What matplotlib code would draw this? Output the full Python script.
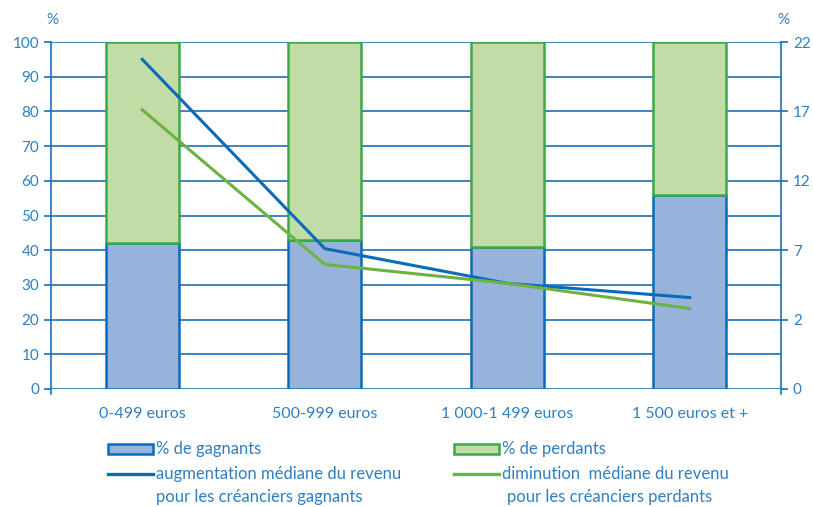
import numpy as np
import matplotlib
matplotlib.use("Agg")
import matplotlib.pyplot as plt
from matplotlib.patches import Rectangle
from matplotlib.lines import Line2D

# -----------------------------
# DATA
# -----------------------------
categories = ["0-499 euros", "500-999 euros", "1 000-1 499 euros", "1 500 euros et +"]
pct_gagnants = [42, 43, 41, 56]
pct_perdants = [100 - v for v in pct_gagnants]
# median change, right axis units (0-22)
aug_mediane = [20.9, 8.9, 6.7, 5.8]
dim_mediane = [17.7, 7.9, 6.7, 5.1]
right_tick_labels = ["0", "2", "7", "12", "17", "22"]

# -----------------------------
# STYLE
# -----------------------------
TXT = "#2f7fc1"
AXC = "#1a6fb8"
BLUE_FACE = "#97b3dc"
BLUE_EDGE = "#0a6cb8"
GREEN_FACE = "#c2dca8"
GREEN_EDGE = "#3aaa48"
BLUE_LINE = "#0a6cb8"
GREEN_LINE = "#6db33f"

plt.rcParams["font.family"] = ["Lato", "DejaVu Sans"]

fig = plt.figure(figsize=(8.13, 5.07), dpi=100)
ax = fig.add_axes([51 / 813, 1 - 389 / 507, 730 / 813, 347 / 507])

x = np.arange(len(categories))
w = 0.4

ax.set_axisbelow(True)
ax.yaxis.grid(True, color=AXC, linewidth=1.2)
ax.bar(x, pct_gagnants, w, color=BLUE_FACE, edgecolor=BLUE_EDGE, linewidth=1.8, zorder=2)
ax.bar(x, pct_perdants, w, bottom=pct_gagnants, color=GREEN_FACE,
       edgecolor=GREEN_EDGE, linewidth=1.8, zorder=2)

ax.set_xlim(-0.5, 3.5)
ax.set_ylim(0, 100)
ax.set_yticks(np.arange(0, 101, 10))
ax.set_xticks(x)
ax.set_xticklabels(categories, fontsize=11.5, color=TXT)
ax.tick_params(axis="x", length=0, pad=13)
ax.tick_params(axis="y", colors=AXC, labelcolor=TXT, labelsize=11, length=5, width=1.2, direction="out")
for s in ["top", "bottom", "right"]:
    ax.spines[s].set_visible(False)
ax.spines["left"].set_color(AXC)
ax.spines["left"].set_linewidth(1.2)
ax.spines["left"].set_bounds(-1.5, 100)

ax2 = ax.twinx()
ax2.plot(x, aug_mediane, color=BLUE_LINE, linewidth=2.2, zorder=3)
ax2.plot(x, dim_mediane, color=GREEN_LINE, linewidth=2.2, zorder=3)
ax2.set_ylim(0, 22)
ax2.set_yticks(np.linspace(0, 22, 6))
ax2.set_yticklabels(right_tick_labels)
ax2.tick_params(axis="y", colors=AXC, labelcolor=TXT, labelsize=11, length=5, width=1.2, direction="out")
for s in ["top", "bottom", "left"]:
    ax2.spines[s].set_visible(False)
ax2.spines["right"].set_color(AXC)
ax2.spines["right"].set_linewidth(1.2)
ax2.spines["right"].set_bounds(-0.33, 22)

fig.text(52 / 813, 1 - 20 / 507, "%", color=TXT, fontsize=11, ha="center", va="center")
fig.text(783 / 813, 1 - 20 / 507, "%", color=TXT, fontsize=11, ha="center", va="center")

# -----------------------------
# LEGEND (drawn by hand, pixel positions)
# -----------------------------
def fx(px):
    return px / 813

def fy(py):
    return 1 - py / 507

legend_items = [
    ("patch", BLUE_FACE, BLUE_EDGE, 108, 449, "% de gagnants", 0),
    ("patch", GREEN_FACE, GREEN_EDGE, 454, 449, "% de perdants", 0),
    ("line", BLUE_LINE, None, 108, 474, "augmentation médiane du revenu\npour les créanciers gagnants", 0),
    ("line", GREEN_LINE, None, 454, 474, "diminution  médiane du revenu\npour les créanciers perdants", 5),
]
for kind, c1, c2, px, py, label, indent in legend_items:
    if kind == "patch":
        fig.add_artist(Rectangle((fx(px), fy(py + 5)), fx(45), 10 / 507,
                                 facecolor=c1, edgecolor=c2, linewidth=1.8,
                                 transform=fig.transFigure))
    else:
        fig.add_artist(Line2D([fx(px), fx(px + 45)], [fy(py), fy(py)], color=c1,
                              linewidth=2.4, transform=fig.transFigure))
    for i, ln in enumerate(label.split("\n")):
        fig.text(fx(px + 48 + (indent if i else 0)), fy(py + i * 23), ln, color=TXT,
                 fontsize=12, ha="left", va="center")

fig.savefig("out.png", dpi=100)
